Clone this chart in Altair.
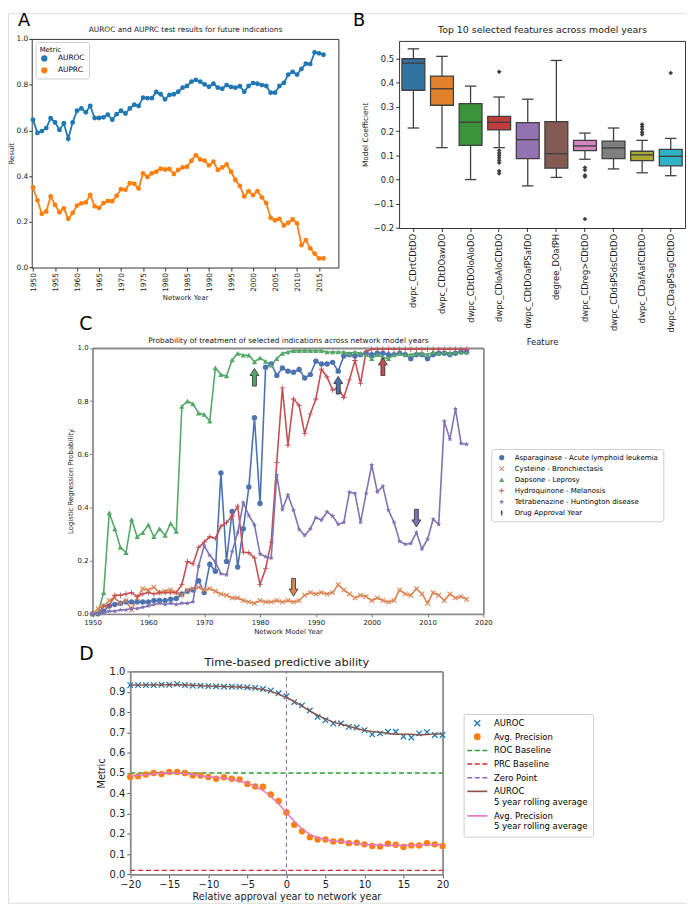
import altair as alt
import numpy as np
import pandas as pd

FONT = "DejaVu Sans"
W, H = 687, 900

# ============================ DATA ============================
# ---- Panel A: AUROC / AUPRC per network year
years_a = list(range(1950, 2017))
auroc_a = [0.646, 0.589, 0.597, 0.610, 0.653, 0.635, 0.602, 0.631, 0.563, 0.635,
           0.686, 0.696, 0.679, 0.707, 0.654, 0.654, 0.657, 0.669, 0.647, 0.671,
           0.686, 0.674, 0.696, 0.712, 0.707, 0.743, 0.741, 0.741, 0.768, 0.758,
           0.736, 0.755, 0.758, 0.769, 0.787, 0.794, 0.813, 0.821, 0.813, 0.801,
           0.791, 0.804, 0.787, 0.782, 0.798, 0.790, 0.787, 0.793, 0.769, 0.794,
           0.807, 0.804, 0.798, 0.794, 0.765, 0.765, 0.794, 0.808, 0.844, 0.856,
           0.844, 0.869, 0.892, 0.890, 0.941, 0.937, 0.931]
auprc_a = [0.350, 0.294, 0.235, 0.245, 0.311, 0.274, 0.242, 0.259, 0.213, 0.239,
           0.271, 0.281, 0.285, 0.318, 0.268, 0.261, 0.282, 0.291, 0.290, 0.314,
           0.343, 0.340, 0.369, 0.366, 0.346, 0.412, 0.396, 0.412, 0.419, 0.432,
           0.429, 0.431, 0.409, 0.427, 0.438, 0.441, 0.467, 0.491, 0.473, 0.467,
           0.447, 0.463, 0.427, 0.438, 0.451, 0.419, 0.383, 0.357, 0.311, 0.334,
           0.317, 0.334, 0.307, 0.282, 0.218, 0.207, 0.213, 0.184, 0.196, 0.210,
           0.193, 0.098, 0.120, 0.084, 0.061, 0.040, 0.040]
metrics_a = ["AUROC", "AUPRC"]
xticks_a = list(range(1950, 2016, 5))

# ---- Panel B: box-plot statistics of top 10 features
features_b = ["dwpc_CDrtCDtDO", "dwpc_CDtDOawDO", "dwpc_CDtDOloAloDO", "dwpc_CDloAloCDtDO",
              "dwpc_CDtDOafPSafDO", "degree_DOafPH", "dwpc_CDreg>CDtDO", "dwpc_CDdsPSdsCDtDO",
              "dwpc_CDafAafCDtDO", "dwpc_CDagPSagCDtDO"]
whisker_lo_b = [0.213, 0.132, 0.000, 0.132, -0.026, 0.009, 0.084, 0.044, 0.028, 0.016]
q1_b = [0.369, 0.307, 0.141, 0.205, 0.087, 0.047, 0.120, 0.087, 0.078, 0.057]
median_b = [0.481, 0.375, 0.237, 0.237, 0.165, 0.107, 0.139, 0.131, 0.102, 0.096]
q3_b = [0.499, 0.427, 0.314, 0.261, 0.235, 0.239, 0.162, 0.159, 0.117, 0.125]
whisker_hi_b = [0.540, 0.509, 0.386, 0.341, 0.332, 0.492, 0.192, 0.213, 0.162, 0.170]
outlier_feature_b = (["dwpc_CDloAloCDtDO"] * 9 + ["dwpc_CDreg>CDtDO"] * 5
                     + ["dwpc_CDafAafCDtDO"] * 5 + ["dwpc_CDagPSagCDtDO"])
outlier_value_b = [0.445, 0.120, 0.110, 0.100, 0.090, 0.080, 0.070, 0.035, 0.025,
                   0.050, 0.040, 0.018, 0.012, -0.163,
                   0.228, 0.218, 0.208, 0.195, 0.186,
                   0.440]
colors_b = ["#3274a1", "#e1812c", "#3a923a", "#c03d3e", "#9372b2",
            "#845b53", "#d684bd", "#7f7f7f", "#a9aa35", "#2eb4c6"]
yticks_b = [-0.2, -0.1, 0.0, 0.1, 0.2, 0.3, 0.4, 0.5]

# ---- Panel C: probability of treatment per network model year
years_c = list(range(1950, 2018))
drugs_c = ["Asparaginase - Acute lymphoid leukemia", "Cysteine - Bronchiectasis",
           "Dapsone - Leprosy", "Hydroquinone - Melanosis", "Tetrabenazine - Huntington disease"]
approval_label_c = "Drug Approval Year"
asparaginase_c = [0.0, 0.0, 0.01, 0.03, 0.035, 0.04, 0.045, 0.045, 0.045, 0.045,
                  0.045, 0.05, 0.05, 0.05, 0.055, 0.058, 0.075, 0.085, 0.09, 0.125,
                  0.08, 0.187, 0.16, 0.53, 0.197, 0.385, 0.176, 0.32, 0.477, 0.738,
                  0.415, 0.928, 0.94, 0.897, 0.925, 0.913, 0.909, 0.919, 0.887, 0.90,
                  0.95, 0.94, 0.94, 0.946, 0.913, 0.97, 0.975, 0.97, 0.975, 0.98,
                  0.975, 0.98, 0.98, 0.975, 0.975, 0.98, 0.975, 0.96, 0.975, 0.975,
                  0.96, 0.975, 0.98, 0.98, 0.975, 0.98, 0.985, 0.985]
cysteine_c = [0.0, 0.02, 0.03, 0.05, 0.06, 0.04, 0.05, 0.015, 0.06, 0.095,
              0.09, 0.10, 0.08, 0.085, 0.09, 0.08, 0.07, 0.09, 0.095, 0.10,
              0.09, 0.095, 0.085, 0.075, 0.07, 0.06, 0.06, 0.05, 0.045, 0.04,
              0.05, 0.045, 0.045, 0.05, 0.045, 0.05, 0.045, 0.05, 0.07, 0.08,
              0.075, 0.08, 0.075, 0.08, 0.11, 0.09, 0.075, 0.06, 0.07, 0.065,
              0.05, 0.06, 0.05, 0.045, 0.05, 0.09, 0.075, 0.07, 0.095, 0.075,
              0.04, 0.08, 0.07, 0.05, 0.075, 0.06, 0.065, 0.055]
dapsone_c = [0.0, 0.005, 0.08, 0.38, 0.32, 0.25, 0.23, 0.355, 0.29, 0.305,
             0.335, 0.29, 0.32, 0.295, 0.34, 0.31, 0.78, 0.80, 0.79, 0.755,
             0.75, 0.725, 0.925, 0.90, 0.895, 0.955, 0.98, 0.973, 0.973, 0.948,
             0.963, 0.95, 0.935, 0.96, 0.98, 0.985, 0.99, 0.99, 0.99, 0.99,
             0.99, 0.99, 0.985, 0.985, 0.985, 0.985, 0.98, 0.985, 0.98, 0.975,
             0.96, 0.975, 0.965, 0.96, 0.975, 0.98, 0.975, 0.975, 0.98, 0.98,
             0.975, 0.985, 0.98, 0.985, 0.98, 0.985, 0.985, 0.985]
hydroquinone_c = [0.0, 0.0, 0.03, 0.03, 0.07, 0.07, 0.075, 0.08, 0.065, 0.075,
                  0.08, 0.075, 0.08, 0.08, 0.08, 0.08, 0.11, 0.197, 0.188, 0.25,
                  0.27, 0.29, 0.283, 0.33, 0.343, 0.368, 0.405, 0.232, 0.23, 0.21,
                  0.11, 0.17, 0.27, 0.57, 0.85, 0.634, 0.808, 0.784, 0.678, 0.752,
                  0.808, 0.92, 0.891, 0.842, 0.85, 0.814, 0.88, 0.953, 0.866, 0.988,
                  0.995, 0.995, 0.995, 0.995, 0.995, 0.995, 0.995, 0.995, 0.995, 0.995,
                  0.995, 0.995, 0.995, 0.995, 0.995, 0.995, 0.995, 0.995]
tetrabenazine_c = [0.0, 0.0, 0.005, 0.01, 0.01, 0.015, 0.015, 0.02, 0.02, 0.025,
                   0.03, 0.035, 0.04, 0.035, 0.04, 0.035, 0.04, 0.04, 0.045, 0.18,
                   0.257, 0.22, 0.195, 0.151, 0.147, 0.234, 0.306, 0.418, 0.37, 0.335,
                   0.225, 0.215, 0.21, 0.523, 0.393, 0.447, 0.39, 0.318, 0.295, 0.32,
                   0.362, 0.353, 0.384, 0.368, 0.337, 0.344, 0.458, 0.453, 0.344, 0.453,
                   0.56, 0.459, 0.48, 0.39, 0.344, 0.273, 0.262, 0.265, 0.306, 0.244,
                   0.281, 0.356, 0.337, 0.725, 0.657, 0.771, 0.641, 0.638]
approval_drug_c = drugs_c
approval_year_c = [1994, 1986, 1979, 2002, 2008]
approval_arrow_y_c = [0.86, 0.10, 0.89, 0.93, 0.36]
approval_angle_c = [0, 180, 0, 0, 180]
colors_c = ["#4c72b0", "#dd8452", "#55a868", "#c44e52", "#8172b3", "#22375a"]
xticks_c = list(range(1950, 2021, 10))

# ---- Panel D: time-based predictive ability
rel_years_d = list(range(-20, 21))
auroc_d = [0.933, 0.933, 0.933, 0.933, 0.935, 0.935, 0.938, 0.933, 0.930, 0.930,
           0.928, 0.927, 0.925, 0.925, 0.924, 0.922, 0.919, 0.914, 0.906, 0.893,
           0.878, 0.849, 0.833, 0.808, 0.776, 0.760, 0.744, 0.744, 0.727, 0.724,
           0.711, 0.690, 0.695, 0.703, 0.703, 0.679, 0.675, 0.695, 0.701, 0.687, 0.687]
ap_d = [0.480, 0.484, 0.492, 0.500, 0.495, 0.505, 0.505, 0.500, 0.487, 0.487,
        0.480, 0.471, 0.479, 0.471, 0.468, 0.446, 0.433, 0.432, 0.394, 0.362,
        0.305, 0.245, 0.213, 0.183, 0.172, 0.172, 0.162, 0.164, 0.154, 0.156,
        0.148, 0.140, 0.138, 0.151, 0.146, 0.135, 0.143, 0.143, 0.154, 0.148, 0.140]
roc_baseline_d = 0.5
prc_baseline_d = 0.02
zero_point_d = 0
legend_d = ["AUROC", "Avg. Precision", "ROC Baseline", "PRC Baseline", "Zero Point",
            "AUROC|5 year rolling average", "Avg. Precision|5 year rolling average"]
colors_d = ["#1f77b4", "#ff7f0e", "#2ca02c", "#d62728", "#9467bd", "#8c564b", "#e377c2"]

# ============================ LAYOUT (pixels in chart) ============================
A_L, A_R, A_T, A_B = 24, 334.3, 26, 257.3
B_L, B_R, B_T, B_B = 395.7, 685, 28, 217.3
C_L, C_R, C_T, C_B = 85.5, 481, 338.7, 607.7
D_L, D_R, D_T, D_B = 123.7, 439.7, 666, 871.3

# ============================ MARKER SHAPES ============================
def star_path(inner=0.42):
    pts = []
    for k in range(10):
        r = 1.0 if k % 2 == 0 else inner
        ang = -np.pi / 2 + k * np.pi / 5
        pts.append((r * np.cos(ang), r * np.sin(ang)))
    return "M" + "L".join(f"{x:.3f},{y:.3f}" for x, y in pts) + "Z"

a_ = 0.28
X_PATH = (f"M{-1+a_},-1L0,{-a_}L{1-a_},-1L1,{-1+a_}L{a_},0L1,{1-a_}L{1-a_},1L0,{a_}"
          f"L{-1+a_},1L-1,{1-a_}L{-a_},0L-1,{-1+a_}Z")
PLUS_PATH = "M-1,-0.16H-0.16V-1H0.16V-0.16H1V0.16H0.16V1H-0.16V0.16H-1Z"
STAR_PATH = star_path()
ARROW_PATH = "M-0.22,1V-0.2H-0.5L0,-1L0.5,-0.2H0.22V1Z"
LINE_PATH = "M-2.9,-0.24H2.9V0.24H-2.9Z"
DASH_PATH = "M-2.9,-0.22H-1.45V0.22H-2.9ZM-0.72,-0.22H0.72V0.22H-0.72ZM1.45,-0.22H2.9V0.22H1.45Z"


def axis(**kw):
    base = dict(grid=False, labelFont=FONT, titleFont=FONT, titleFontWeight="normal",
                labelFlush=False, labelOverlap=False, labelColor="#1a1a1a", titleColor="#1a1a1a")
    base.update(kw)
    return alt.Axis(**base)


def spine(orient, offset, color, width, title=None, **kw):
    return axis(orient=orient, offset=offset, labels=False, ticks=False,
                domainColor=color, domainWidth=width, title=title, **kw)


def letter(ch, x, y, size):
    return alt.Chart(pd.DataFrame({"panel": [ch]})).mark_text(
        font=FONT, fontSize=size, align="left", baseline="alphabetic", color="black"
    ).encode(text="panel:N", x=alt.value(x), y=alt.value(y))


# ============================ PANEL A ============================
n_a = len(years_a)
df_a = pd.DataFrame({"year": years_a * 2, "value": auroc_a + auprc_a,
                     "metric": ["AUROC"] * n_a + ["AUPRC"] * n_a})
xA = alt.Scale(domain=[1949.7, 2019.4], range=[A_L, A_R], nice=False, zero=False)
yA = alt.Scale(domain=[0, 1], range=[A_B, A_T], nice=False, zero=False)
cA = alt.Scale(domain=metrics_a, range=["#1f77b4", "#ff7f0e"])
blk = dict(domainColor="#000000", tickColor="#000000", domainWidth=0.8, tickWidth=0.8)

a_line = alt.Chart(df_a).mark_line(strokeWidth=1.8).encode(
    x=alt.X("year:Q", scale=xA, axis=axis(
        orient="bottom", offset=A_B - H, values=xticks_a, format="d", labelAngle=-90,
        labelFontSize=7.5, tickSize=3.5, labelPadding=1.5, title="Network Year",
        titleFontSize=7, titlePadding=2, **blk)),
    y=alt.Y("value:Q", scale=yA, axis=axis(
        orient="left", offset=-A_L, values=[0, 0.2, 0.4, 0.6, 0.8, 1.0], format=".1f",
        labelFontSize=7.5, tickSize=3, labelPadding=1, title="Result",
        titleFontSize=7, titlePadding=1, **blk)),
    color=alt.Color("metric:N", scale=cA, legend=None),
)
a_pts = alt.Chart(df_a).mark_circle(size=24, opacity=1).encode(
    x=alt.X("year:Q", scale=xA, axis=spine(
        "top", -A_T, "#000000", 0.8, title="AUROC and AUPRC test results for future indications",
        titleFontSize=7.5, titlePadding=6)),
    y=alt.Y("value:Q", scale=yA, axis=spine("right", A_R - W, "#000000", 0.8)),
    color=alt.Color("metric:N", scale=cA, legend=alt.Legend(
        title="Metric", orient="none", legendX=A_L + 4, legendY=29, titleFont=FONT,
        titleFontSize=7, titleFontWeight="normal", labelFont=FONT, labelFontSize=7.5,
        symbolSize=40, symbolType="circle", fillColor="white", strokeColor="#cccccc",
        cornerRadius=2, padding=4, rowPadding=3, titlePadding=2, symbolOffset=1,
        labelOffset=10, symbolStrokeWidth=0)),
)

# ============================ PANEL B ============================
df_b = pd.DataFrame({"feature": features_b, "wlo": whisker_lo_b, "q1": q1_b,
                     "med": median_b, "q3": q3_b, "whi": whisker_hi_b})
df_bo = pd.DataFrame({"feature": outlier_feature_b, "value": outlier_value_b})
xB = alt.Scale(domain=features_b, range=[B_L, B_R], paddingInner=0.2, paddingOuter=0.1)
yB = alt.Scale(domain=[-0.2, 0.5727], range=[B_B, B_T], nice=False, zero=False)
fB = alt.Scale(domain=features_b, range=colors_b)
box_w = 0.8 * (B_R - B_L) / len(features_b)
gray_b = "#3f3f3f"

b_whisk = alt.Chart(df_b).mark_rule(color=gray_b, strokeWidth=1.3).encode(
    x=alt.X("feature:N", scale=xB, sort=features_b, axis=axis(
        orient="bottom", offset=B_B - H, labelAngle=-90, labelFontSize=8.5, tickSize=3.5,
        labelPadding=2, title="Feature", titleFontSize=8.5, titlePadding=5, labelLimit=300, **blk)),
    y=alt.Y("wlo:Q", scale=yB, axis=axis(
        orient="left", offset=-B_L, values=yticks_b, format=".1f", labelFontSize=8.5,
        tickSize=3.5, labelPadding=2, title="Model Coefficient", titleFontSize=7.5,
        titlePadding=4, **blk)),
    y2="whi:Q",
)
b_box = alt.Chart(df_b).mark_bar(stroke=gray_b, strokeWidth=1.3, opacity=1).encode(
    x=alt.X("feature:N", scale=xB, sort=features_b, axis=spine(
        "top", -B_T, "#000000", 0.8, title="Top 10 selected features across model years",
        titleFontSize=9.5, titlePadding=7)),
    y=alt.Y("q1:Q", scale=yB, axis=spine("right", B_R - W, "#000000", 0.8)),
    y2="q3:Q",
    fill=alt.Fill("feature:N", scale=fB, legend=None),
)
b_med = alt.Chart(df_b).mark_tick(size=box_w, thickness=1.4, color=gray_b, opacity=1).encode(
    x=alt.X("feature:N", scale=xB, sort=features_b, axis=None),
    y=alt.Y("med:Q", scale=yB, axis=None),
)
b_caps = alt.Chart(df_b).transform_fold(["wlo", "whi"], as_=["end", "cap"]).mark_tick(
    size=box_w / 2, thickness=1.3, color=gray_b, opacity=1).encode(
    x=alt.X("feature:N", scale=xB, sort=features_b, axis=None),
    y=alt.Y("cap:Q", scale=yB, axis=None),
)
b_out = alt.Chart(df_bo).mark_point(shape="diamond", filled=True, size=22, color=gray_b,
                                    opacity=1).encode(
    x=alt.X("feature:N", scale=xB, sort=features_b, axis=None),
    y=alt.Y("value:Q", scale=yB, axis=None),
)

# ============================ PANEL C ============================
n_c = len(years_c)
series_c = [asparaginase_c, cysteine_c, dapsone_c, hydroquinone_c, tetrabenazine_c]
df_c = pd.DataFrame({
    "year": years_c * len(drugs_c),
    "value": sum(series_c, []),
    "drug": sum([[d] * n_c for d in drugs_c], []),
})
df_arrow = pd.DataFrame({"drug": approval_drug_c, "year": approval_year_c,
                         "value": approval_arrow_y_c, "angle": approval_angle_c})
xC = alt.Scale(domain=[1950, 2020], range=[C_L, C_R], nice=False, zero=False)
yC = alt.Scale(domain=[0, 1], range=[C_B, C_T], nice=False, zero=False)
legend_c_domain = drugs_c + [approval_label_c]
cC = alt.Scale(domain=legend_c_domain, range=colors_c)
sC = alt.Scale(domain=legend_c_domain,
               range=["circle", X_PATH, "triangle-up", PLUS_PATH, STAR_PATH, ARROW_PATH])
gray_c = "#8a8a8a"
cfmt = dict(domainColor=gray_c, domainWidth=1.8, tickColor="#555555", tickWidth=0.8)
leg_c = alt.Legend(title=None, orient="none", legendX=489, legendY=441, labelFont=FONT,
                   labelFontSize=7.1, symbolSize=28, fillColor="white", strokeColor="#cccccc",
                   cornerRadius=2, padding=5, rowPadding=3.2, symbolOffset=2, labelOffset=9.5,
                   labelLimit=300, symbolStrokeWidth=0)

c_line = alt.Chart(df_c).mark_line(strokeWidth=1.6).encode(
    x=alt.X("year:Q", scale=xC, axis=axis(
        orient="bottom", offset=C_B - H, values=xticks_c, format="d", labelFontSize=7,
        tickSize=3, labelPadding=1.5, title="Network Model Year", titleFontSize=7,
        titlePadding=2, **cfmt)),
    y=alt.Y("value:Q", scale=yC, axis=axis(
        orient="left", offset=-C_L, values=[0, 0.2, 0.4, 0.6, 0.8, 1.0], format=".1f",
        labelFontSize=7, tickSize=3, labelPadding=1.5, title="Logistic Regression Probability",
        titleFontSize=7, titlePadding=4, **cfmt)),
    color=alt.Color("drug:N", scale=cC, legend=None),
)
c_pts = alt.Chart(df_c).mark_point(filled=True, size=30, opacity=1).encode(
    x=alt.X("year:Q", scale=xC, axis=spine(
        "top", -C_T, gray_c, 1.8,
        title="Probability of treatment of selected indications across network model years",
        titleFontSize=7.5, titlePadding=4)),
    y=alt.Y("value:Q", scale=yC, axis=spine("right", C_R - W, gray_c, 1.8)),
    color=alt.Color("drug:N", scale=cC, legend=leg_c),
    shape=alt.Shape("drug:N", scale=sC, legend=leg_c),
)
c_arrow = alt.Chart(df_arrow).mark_point(shape=ARROW_PATH, filled=True, size=320,
                                         stroke="#2a2a2a", strokeWidth=0.8, opacity=1).encode(
    x=alt.X("year:Q", scale=xC, axis=None),
    y=alt.Y("value:Q", scale=yC, axis=None),
    fill=alt.Fill("drug:N", scale=cC, legend=None),
    angle=alt.Angle("angle:Q", scale=None),
)

# ============================ PANEL D ============================
n_d = len(rel_years_d)
df_d = pd.DataFrame({"rel": rel_years_d * 2, "value": auroc_d + ap_d,
                     "series": ["AUROC"] * n_d + ["Avg. Precision"] * n_d})
df_base = pd.DataFrame({"name": ["ROC Baseline", "PRC Baseline"],
                        "value": [roc_baseline_d, prc_baseline_d]})
df_zero = pd.DataFrame({"rel": [zero_point_d]})
xD = alt.Scale(domain=[rel_years_d[0], rel_years_d[-1]], range=[D_L, D_R], nice=False, zero=False)
yD = alt.Scale(domain=[0, 1], range=[D_B, D_T], nice=False, zero=False)
cD = alt.Scale(domain=legend_d, range=colors_d)
sD = alt.Scale(domain=legend_d, range=[X_PATH, "circle", DASH_PATH, DASH_PATH, DASH_PATH,
                                       LINE_PATH, LINE_PATH])
gray_d = "#8a8a8a"
dfmt = dict(domainColor=gray_d, domainWidth=1.8, tickColor="#444444", tickWidth=0.9)
leg_d = alt.Legend(title=None, orient="none", legendX=461, legendY=709, labelFont=FONT,
                   labelFontSize=8.6, symbolSize=49, fillColor="white", strokeColor="#cccccc",
                   cornerRadius=2, padding=5, rowPadding=4.8, symbolOffset=4.5, labelOffset=12.5,
                   labelLimit=300, symbolStrokeWidth=0, labelExpr="split(datum.label, '|')")

d_pts = alt.Chart(df_d).mark_point(filled=True, size=42, opacity=1).encode(
    x=alt.X("rel:Q", scale=xD, axis=axis(
        orient="bottom", offset=D_B - H, values=list(range(-20, 21, 5)), format="d",
        labelFontSize=10, tickSize=3.5, labelPadding=2, title="Relative approval year to network year",
        titleFontSize=9.8, titlePadding=2, **dfmt)),
    y=alt.Y("value:Q", scale=yD, axis=axis(
        orient="left", offset=-D_L, values=[round(0.1 * i, 1) for i in range(11)], format=".1f",
        labelFontSize=10, tickSize=3.5, labelPadding=2, title="Metric", titleFontSize=9.8,
        titlePadding=3, **dfmt)),
    color=alt.Color("series:N", scale=cD, legend=leg_d),
    shape=alt.Shape("series:N", scale=sD, legend=leg_d),
)
d_base = alt.Chart(df_base).mark_rule(strokeDash=[5, 3], strokeWidth=1.4).encode(
    y=alt.Y("value:Q", scale=yD, axis=None),
    x=alt.XDatum(rel_years_d[0], scale=xD, axis=None),
    x2=alt.X2Datum(rel_years_d[-1]),
    color=alt.Color("name:N", scale=alt.Scale(domain=["ROC Baseline", "PRC Baseline"],
                                               range=["#2ca02c", "#d62728"]), legend=None),
)
d_zero = alt.Chart(df_zero).mark_rule(strokeDash=[4, 3], strokeWidth=1.1, color="#9467bd").encode(
    x=alt.X("rel:Q", scale=xD, axis=None),
    y=alt.YDatum(0, scale=yD, axis=None),
    y2=alt.Y2Datum(1),
)
d_roll = alt.Chart(df_d).transform_window(
    roll="mean(value)", frame=[-2, 2], groupby=["series"], sort=[alt.SortField("rel")]
).mark_line(strokeWidth=1.5).encode(
    x=alt.X("rel:Q", scale=xD, axis=spine("top", -D_T, gray_d, 1.8,
                                          title="Time-based predictive ability",
                                          titleFontSize=11.5, titlePadding=4)),
    y=alt.Y("roll:Q", scale=yD, axis=spine("right", D_R - W, gray_d, 1.8)),
    color=alt.Color("series:N", scale=alt.Scale(domain=["AUROC", "Avg. Precision"],
                                                 range=["#8c564b", "#e377c2"]), legend=None),
)

# ============================ COMPOSE ============================
layers = [
    a_line, a_pts,
    b_whisk, b_box, b_med, b_caps, b_out,
    c_line, c_pts, c_arrow,
    d_base, d_zero, d_pts, d_roll,
    letter("A", 10, 13, 18), letter("B", 349, 13, 18),
    letter("C", 72, 320, 19), letter("D", 72, 654, 19),
]

chart = alt.layer(*layers).resolve_scale(
    x="independent", y="independent", color="independent", shape="independent", fill="independent"
).resolve_axis(x="independent", y="independent").resolve_legend(
    color="independent", shape="independent", fill="independent"
).properties(
    width=W, height=H, autosize=alt.AutoSizeParams(type="none"), padding=0
).configure_view(stroke=None).configure(font=FONT)

chart.save("out.html", embed_options={"renderer": "svg", "actions": False})
